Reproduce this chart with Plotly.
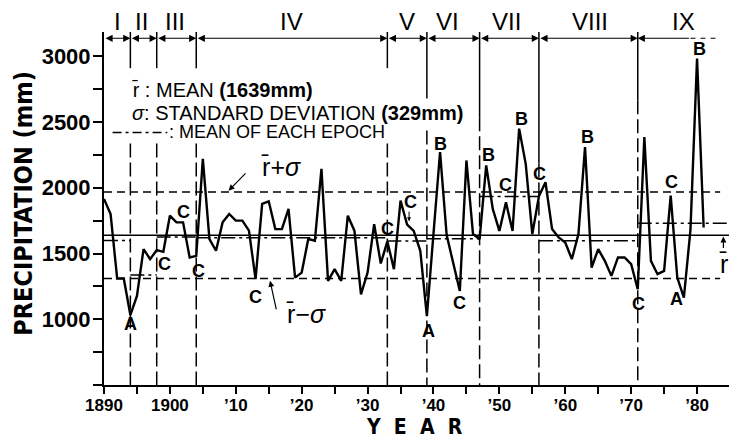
import plotly.graph_objects as go

# ---------------- data ----------------
years = list(range(1890, 1982))
precip = [1915, 1800, 1310, 1310, 1032, 1177, 1534, 1457, 1526, 1513,
          1788, 1737, 1737, 1470, 1482, 2220, 1610, 1521, 1737, 1801,
          1750, 1750, 1674, 1305, 1877, 1897, 1686, 1686, 1839, 1317,
          1355, 1610, 1597, 2144, 1292, 1381, 1292, 1788, 1674, 1190,
          1355, 1724, 1424, 1592, 1381, 1902, 1720, 1672, 1521, 1024,
          1650, 2271, 1640, 1420, 1215, 2208, 1648, 1610, 2170, 1839,
          1672, 1889, 1672, 2450, 2182, 1648, 1935, 2042, 1686, 1622,
          1584, 1457, 1648, 2309, 1393, 1534, 1444, 1330, 1470, 1470,
          1419, 1228, 2386, 1444, 1343, 1368, 1940, 1317, 1164, 1680,
          2984, 1698]

MEAN = 1639
SD = 329
epoch_bounds = [1890, 1894, 1898, 1904, 1933, 1939, 1947, 1956, 1971, 1985]
epoch_names = ["I", "II", "III", "IV", "V", "VI", "VII", "VIII", "IX"]
epoch_label_x = [1892.0, 1895.7, 1900.8, 1918.5, 1936.0, 1942.1, 1951.1, 1963.7, 1978.0]
epoch_means = [1600, 1337, 1625, 1620, 1595, 1612, 1933, 1597, 1730]

event_letters = ["A", "C", "C", "C", "C", "C", "C", "A", "B", "C", "B", "C",
                 "B", "C", "B", "C", "C", "A", "B"]
event_years = [1894, 1899.2, 1902, 1904.3, 1913, 1933, 1936.5, 1939.3, 1941.1,
               1944, 1948.3, 1950.9, 1953.4, 1956.1, 1963.3, 1971.1, 1976.1,
               1976.9, 1980.3]
event_values = [963, 1419, 1813, 1368, 1172, 1686, 1889, 910, 2335,
                1126, 2246, 2022, 2526, 2106, 2385, 1114, 2042, 1152, 3053]

xtick_vals = list(range(1890, 1986, 5))
xtick_text = ["1890", "", "1900", "", "\u201910", "", "\u201920", "", "\u201930", "",
              "\u201940", "", "\u201950", "", "\u201960", "", "\u201970", "", "\u201980", ""]
ytick_vals = list(range(500, 3001, 250))
ytick_text = ["" if v % 500 else str(v) for v in ytick_vals]
ytick_text[0] = ""

# ---------------- figure ----------------
X0, X1 = 1890, 1985
Y0, Y1 = 500, 3185
TOP = 3137
RBAR = "r\u0304"
FONT = "Liberation Sans, Arial, sans-serif"
COND = "DejaVu Sans Condensed, Liberation Sans Narrow, Arial Narrow, sans-serif"

fig = go.Figure()

# mean and +/- sigma lines
fig.add_trace(go.Scatter(x=[X0, X1], y=[MEAN, MEAN], mode="lines",
                         line=dict(color="black", width=1.3), hoverinfo="skip"))
for v in (MEAN + SD, MEAN - SD):
    fig.add_trace(go.Scatter(x=[X0, 1983.5], y=[v, v], mode="lines",
                             line=dict(color="black", width=1.5, dash="8px,5px"),
                             hoverinfo="skip"))

# epoch means (dash-dot)
for i, m in enumerate(epoch_means):
    fig.add_trace(go.Scatter(x=[epoch_bounds[i], epoch_bounds[i + 1]], y=[m, m],
                             mode="lines",
                             line=dict(color="black", width=1.5,
                                       dash="14px,4px,3px,4px"),
                             hoverinfo="skip"))

# vertical epoch boundaries
vgaps = {1894: (2910, 2336), 1898: (2910, 2336), 1904: (2910, 2336),
         1933: (2910, 2336), 1939: (2680, 2436), 1947: (2536, 2536),
         1956: (2185, 2185), 1971: (2666, 2666)}
for b in epoch_bounds[1:-1]:
    top_end, low_start = vgaps[b]
    fig.add_shape(type="line", x0=b, x1=b, y0=Y1, y1=top_end,
                  line=dict(color="black", width=1.5))
    fig.add_shape(type="line", x0=b, x1=b, y0=low_start, y1=Y0,
                  line=dict(color="black", width=1.5, dash="14px,5px"))

# precipitation series
fig.add_trace(go.Scatter(x=years, y=precip, mode="lines",
                         line=dict(color="black", width=2.4), hoverinfo="skip"))

# top epoch arrows
for i in range(len(epoch_names)):
    a, b = epoch_bounds[i], epoch_bounds[i + 1]
    if i < len(epoch_names) - 1:
        fig.add_annotation(x=b, y=TOP, ax=a, ay=TOP, axref="x", ayref="y",
                           xref="x", yref="y", text="", showarrow=True,
                           arrowhead=2, startarrowhead=2, arrowside="end+start",
                           arrowsize=1.3, arrowwidth=1.1, arrowcolor="black",
                           standoff=0, startstandoff=0)
    else:
        fig.add_shape(type="line", x0=1979, x1=1983.5, y0=TOP, y1=TOP,
                      line=dict(color="black", width=1.1, dash="5px,5px"))
        fig.add_annotation(x=a, y=TOP, ax=1979, ay=TOP, axref="x", ayref="y",
                           xref="x", yref="y", text="", showarrow=True,
                           arrowhead=2, arrowsize=1.3, arrowwidth=1.1,
                           arrowcolor="black", standoff=0)
    fig.add_annotation(x=epoch_label_x[i], y=1.031, xref="x", yref="paper",
                       xanchor="center", yanchor="middle",
                       text=epoch_names[i], showarrow=False,
                       font=dict(family=FONT, size=24, color="black"))

# event letters
for L, yr, v in zip(event_letters, event_years, event_values):
    fig.add_annotation(x=yr, y=v, text="<b>%s</b>" % L, showarrow=False,
                       xanchor="center", yanchor="middle",
                       font=dict(family=FONT, size=18, color="black"))

# legend text
fig.add_annotation(x=1894.0, y=2747, xanchor="left", yanchor="middle", showarrow=False,
                   text=RBAR + " : MEAN <b>(1639mm)</b>",
                   font=dict(family=FONT, size=20, color="black"))
fig.add_annotation(x=1894.0, y=2569, xanchor="left", yanchor="middle", showarrow=False,
                   text="<i>\u03c3</i>: STANDARD DEVIATION <b>(329mm)</b>",
                   font=dict(family=FONT, size=20, color="black"))
fig.add_shape(type="line", x0=1891.3, x1=1899.6, y0=2421, y1=2421,
              line=dict(color="black", width=1.5, dash="9px,4px,3px,4px"))
fig.add_annotation(x=1899.6, y=2421, xanchor="left", yanchor="middle", showarrow=False,
                   text=": MEAN OF EACH EPOCH",
                   font=dict(family=FONT, size=18, color="black"))

# r+sigma / r-sigma / r labels
fig.add_annotation(x=1916.8, y=2156, text=RBAR + "+<i>\u03c3</i>", showarrow=False,
                   xanchor="center", yanchor="middle",
                   font=dict(family=FONT, size=25, color="black"))
fig.add_annotation(x=1908.9, y=1978, ax=1911.7, ay=2121, axref="x", ayref="y",
                   text="", showarrow=True, arrowhead=2, arrowsize=1,
                   arrowwidth=1.2, arrowcolor="black")
fig.add_annotation(x=1920.6, y=1037, text=RBAR + "\u2212<i>\u03c3</i>", showarrow=False,
                   xanchor="center", yanchor="middle",
                   font=dict(family=FONT, size=25, color="black"))
fig.add_annotation(x=1915.2, y=1292, ax=1916.2, ay=1063, axref="x", ayref="y",
                   text="", showarrow=True, arrowhead=2, arrowsize=1,
                   arrowwidth=1.2, arrowcolor="black")
fig.add_annotation(x=1984.0, y=1420, text=RBAR, showarrow=False,
                   xanchor="center", yanchor="middle",
                   font=dict(family=FONT, size=25, color="black"))
fig.add_annotation(x=1984.0, y=1630, ax=1984.0, ay=1530, axref="x", ayref="y",
                   text="", showarrow=True, arrowhead=2, arrowsize=1,
                   arrowwidth=1.2, arrowcolor="black")
fig.add_annotation(x=1936.3, y=1745, ax=1936.3, ay=1830, axref="x", ayref="y",
                   text="", showarrow=True, arrowhead=2, arrowsize=0.8,
                   arrowwidth=1, arrowcolor="black")

# axis titles
fig.add_annotation(xref="paper", yref="paper", x=-0.1283, y=0.5156,
                   xanchor="center", yanchor="middle",
                   text="<b>PRECIPITATION (mm)</b>", textangle=-90,
                   showarrow=False,
                   font=dict(family=COND, size=25, color="black"))
fig.add_annotation(xref="paper", yref="paper", x=0.4966, y=-0.118,
                   xanchor="center", yanchor="middle",
                   text="<b>Y  E  A  R</b>", showarrow=False,
                   font=dict(family=COND, size=21, color="black"))

# the page body adds an 8px offset, so the figure is drawn 8px smaller
fig.update_layout(
    width=729, height=435, autosize=False,
    margin=dict(l=96, r=7, t=24, b=58),
    paper_bgcolor="white", plot_bgcolor="white",
    showlegend=False,
    xaxis=dict(range=[X0, X1], showgrid=False, zeroline=False,
               showline=True, linecolor="black", linewidth=2,
               ticks="outside", ticklen=7, tickwidth=1.5, tickcolor="black",
               tickmode="array", tickvals=xtick_vals, ticktext=xtick_text,
               ticklabelstandoff=-3,
               tickfont=dict(family=FONT, size=17, color="black", weight="bold")),
    yaxis=dict(range=[Y0, Y1], showgrid=False, zeroline=False,
               showline=True, linecolor="black", linewidth=2,
               ticks="outside", ticklen=9, tickwidth=1.5, tickcolor="black",
               tickmode="array", tickvals=ytick_vals, ticktext=ytick_text,
               ticklabelstandoff=-2,
               tickfont=dict(family=FONT, size=22, color="black", weight="bold")),
)

fig.write_html("out.html")
